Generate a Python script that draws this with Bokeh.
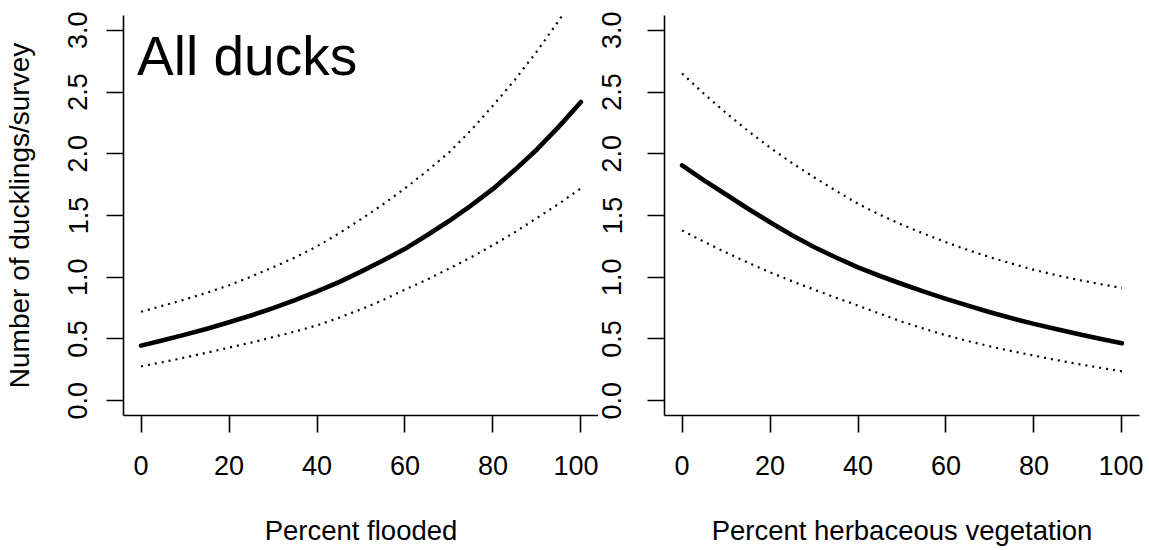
from bokeh.plotting import figure
from bokeh.layouts import row
from bokeh.models import Range1d, FixedTicker, NumeralTickFormatter, Label
from bokeh.embed import file_html
from bokeh.resources import INLINE

# ---- data ----
x_pct = [0, 5, 10, 15, 20, 25, 30, 35, 40, 45, 50, 55, 60, 65, 70, 75, 80, 85, 90, 95, 100]

flooded_fit = [0.446, 0.490, 0.535, 0.583, 0.635, 0.690, 0.750, 0.815, 0.885, 0.960, 1.045,
               1.135, 1.230, 1.340, 1.455, 1.580, 1.715, 1.870, 2.035, 2.220, 2.420]
flooded_upper = [0.720, 0.770, 0.820, 0.875, 0.935, 1.005, 1.080, 1.160, 1.250, 1.355, 1.470,
                 1.590, 1.720, 1.860, 2.010, 2.190, 2.390, 2.600, 2.830, 3.080, 3.350]
flooded_lower = [0.278, 0.313, 0.350, 0.389, 0.430, 0.470, 0.515, 0.560, 0.610, 0.672, 0.740,
                 0.815, 0.900, 0.980, 1.070, 1.160, 1.260, 1.365, 1.480, 1.595, 1.720]

herb_fit = [1.906, 1.785, 1.670, 1.555, 1.446, 1.340, 1.245, 1.160, 1.080, 1.010, 0.945,
            0.883, 0.825, 0.770, 0.716, 0.668, 0.622, 0.580, 0.540, 0.502, 0.465]
herb_upper = [2.650, 2.485, 2.330, 2.185, 2.050, 1.925, 1.810, 1.700, 1.595, 1.505, 1.425,
              1.352, 1.284, 1.220, 1.162, 1.110, 1.060, 1.017, 0.979, 0.945, 0.914]
herb_lower = [1.379, 1.287, 1.200, 1.118, 1.040, 0.968, 0.900, 0.834, 0.770, 0.704, 0.640,
              0.583, 0.530, 0.483, 0.440, 0.401, 0.365, 0.330, 0.297, 0.267, 0.238]

x_ticks = [0, 20, 40, 60, 80, 100]
y_ticks = [0.0, 0.5, 1.0, 1.5, 2.0, 2.5, 3.0]

y_title = "Number of ducklings/survey"
x_title_left = "Percent flooded"
x_title_right = "Percent herbaceous vegetation"
panel_title = "All ducks"

FONT = "Liberation Sans"


def panel(fit, upper, lower, xlabel, ylabel, border_left, border_right, tick_standoff):
    p = figure(frame_width=475, frame_height=400,
               x_range=Range1d(-4, 104), y_range=Range1d(-0.12, 3.12),
               output_backend="svg", toolbar_location=None,
               min_border_left=border_left, min_border_right=border_right,
               min_border_top=15, min_border_bottom=133)
    p.outline_line_color = None
    p.xgrid.visible = False
    p.ygrid.visible = False
    p.background_fill_color = "white"
    p.border_fill_color = "white"

    p.line(x_pct, upper, line_width=2.2, color="black", line_dash="2 5")
    p.line(x_pct, lower, line_width=2.2, color="black", line_dash="2 5")
    p.line(x_pct, fit, line_width=4.6, color="black", line_cap="round", line_join="round")

    xa = p.xaxis[0]
    xa.ticker = FixedTicker(ticks=x_ticks)
    xa.minor_tick_line_color = None
    xa.major_tick_in = 0
    xa.major_tick_out = 17
    xa.axis_line_width = 1.6
    xa.major_tick_line_width = 1.6
    xa.axis_line_color = "black"
    xa.major_tick_line_color = "black"
    xa.major_label_text_font = FONT
    xa.major_label_text_font_size = "27px"
    xa.major_label_text_color = "black"
    xa.major_label_standoff = 23
    xa.axis_label = xlabel
    xa.axis_label_text_font = FONT
    xa.axis_label_text_font_size = "27.5px"
    xa.axis_label_text_font_style = "normal"
    xa.axis_label_text_color = "black"
    xa.axis_label_standoff = 37

    ya = p.yaxis[0]
    ya.ticker = FixedTicker(ticks=y_ticks)
    ya.formatter = NumeralTickFormatter(format="0.0")
    ya.minor_tick_line_color = None
    ya.major_tick_in = 0
    ya.major_tick_out = 17
    ya.axis_line_width = 1.6
    ya.major_tick_line_width = 1.6
    ya.axis_line_color = "black"
    ya.major_tick_line_color = "black"
    ya.major_label_orientation = "vertical"
    ya.major_label_text_font = FONT
    ya.major_label_text_font_size = "27px"
    ya.major_label_text_color = "black"
    ya.major_label_standoff = tick_standoff
    if ylabel:
        ya.axis_label = ylabel
        ya.axis_label_text_font = FONT
        ya.axis_label_text_font_size = "28px"
        ya.axis_label_text_font_style = "normal"
        ya.axis_label_text_color = "black"
        ya.axis_label_standoff = 31
    return p


p1 = panel(flooded_fit, flooded_upper, flooded_lower, x_title_left, y_title, 123, 0, 19)
p1.add_layout(Label(x=0, y=2.79, text=panel_title, text_font=FONT, text_font_size="55px",
                    text_color="black", text_baseline="alphabetic", x_offset=-4))

p2 = panel(herb_fit, herb_upper, herb_lower, x_title_right, None, 66, 4, 26)

layout = row(p1, p2)

open("out.html", "w").write(file_html(layout, INLINE))
